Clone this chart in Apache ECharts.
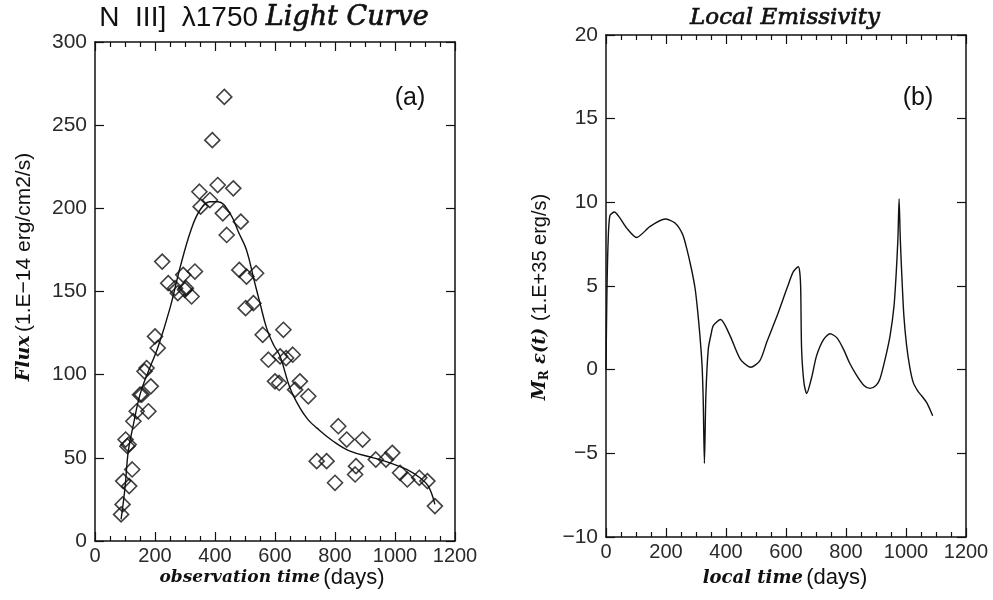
<!DOCTYPE html>
<html>
<head>
<meta charset="utf-8">
<script src="https://cdn.jsdelivr.net/npm/echarts@6/dist/echarts.min.js"></script>
<style>html,body{margin:0;padding:0;background:#fff}#c{width:993px;height:600px}</style>
</head>
<body>
<div id="c"></div>
<script>
// Panel (a): observed N III] 1750 fluxes (days, 1e-14 erg/cm2/s)
const obsDays = [87,92,94,114,102,108,112,124,128,139,150,156,178,186,165,172,200,209,224,244,267,276,294,300,303,322,333,348,352,383,391,409,426,431,439,461,481,486,502,505,528,537,559,578,600,614,617,628,637,659,667,683,711,739,772,800,811,839,867,870,892,936,970,991,1017,1041,1081,1108,1133];
const obsFlux = [16,22,36,33,61,57,58,43,72,78,88,88,78,93,102,104,123,116,168,155,152,149,160,151,152,147,162,210,201,205,241,214,197,267,184,212,163,192,140,159,143,161,124,109,96,95,111,127,110,112,91,96,87,48,48,35,69,61,40,45,61,49,49,53,41,37,38,36,21];
// Panel (a): model fit curve
const fitDays = [87,100,111,128,150,180,209,250,283,320,350,383,410,450,480,505,530,550,572,595,617,650,683,710,739,794,850,928,983,1039,1083,1111,1133];
const fitFlux = [13,32,54,70,88,103,116,140,164,187,199,204,204,197,185,175,157,143,128,118,111,92,80,73,68,60,54,50,47,43,38,33,22];
// Panel (b): local emissivity (1e35 erg/s) vs local time (days)
const locDays = [0,3,7,13,28,45,69,102,147,197,230,255,269,285,297,305,313,320,324,328,333,341,350,358,382,413,447,482,513,536,570,591,610,624,641,646,649,652,660,669,685,702,725,747,770,791,812,836,860,880,900,913,930,947,960,967,973,977,981,986,993,1002,1013,1024,1040,1052,1070,1089];
const locEmis = [0,4.5,7.6,9.2,9.42,9.1,8.46,7.9,8.56,9.0,8.76,8.1,7.25,6.0,4.85,3.6,2.05,0.3,-1.76,-5.6,-1.5,1.24,2.1,2.64,3.0,2.05,0.65,0.14,0.54,1.65,3.2,4.25,5.2,5.85,6.15,5.8,4.85,1.24,-0.8,-1.42,-0.5,0.84,1.8,2.15,1.9,1.24,0.4,-0.36,-0.95,-1.12,-0.95,-0.56,0.6,2.04,3.8,5.65,7.8,10.2,7.8,5.65,3.2,1.45,0.1,-0.76,-1.3,-1.56,-2.0,-2.76];
const xTicks = [0,200,400,600,800,1000,1200];

const SANS = 'Liberation Sans';
const SERIF = 'DejaVu Serif';
const fix = v => String(v).replace('-', '\u2212');

function xAx(grid, pos, showLab) {
  return {
    type: 'value', gridIndex: grid, position: pos, min: 0, max: 1200, interval: 200,
    axisLine: {show: true, onZero: false, lineStyle: {color: '#111', width: 1.5}},
    axisTick: {show: true, inside: true, length: 9, lineStyle: {color: '#111', width: 1.2}},
    minorTick: {show: true, splitNumber: 4, length: 5, lineStyle: {color: '#111', width: 1.2}},
    splitLine: {show: false},
    axisLabel: {show: showLab, fontFamily: SANS, fontSize: 20, color: '#2a2a2a', margin: 5, formatter: fix}
  };
}
function yAx(grid, pos, min, max, step, showLab) {
  return {
    type: 'value', gridIndex: grid, position: pos, min: min, max: max, interval: step,
    axisLine: {show: true, onZero: false, lineStyle: {color: '#111', width: 1.5}},
    axisTick: {show: true, inside: true, length: 9, lineStyle: {color: '#111', width: 1.2}},
    splitLine: {show: false},
    axisLabel: {show: showLab, fontFamily: SANS, fontSize: 21, color: '#2a2a2a', margin: 8, formatter: fix}
  };
}

const chart = echarts.init(document.getElementById('c'), null, {renderer: 'canvas'});
chart.setOption({
  animation: false,
  backgroundColor: '#fff',
  grid: [
    {left: 95, right: 538, top: 42, bottom: 59},
    {left: 606, right: 27, top: 35, bottom: 63}
  ],
  xAxis: [xAx(0, 'bottom', true), xAx(0, 'top', false), xAx(1, 'bottom', true), xAx(1, 'top', false)],
  yAxis: [yAx(0, 'left', 0, 300, 50, true), yAx(0, 'right', 0, 300, 50, false),
          yAx(1, 'left', -10, 20, 5, true), yAx(1, 'right', -10, 20, 5, false)],
  series: [
    {
      type: 'scatter', xAxisIndex: 0, yAxisIndex: 0,
      data: obsDays.map((d, i) => [d, obsFlux[i]]),
      symbol: 'diamond', symbolSize: [15, 15],
      itemStyle: {color: 'rgba(0,0,0,0)', borderColor: '#111', borderWidth: 1.6}
    },
    {
      type: 'line', xAxisIndex: 0, yAxisIndex: 0,
      data: fitDays.map((d, i) => [d, fitFlux[i]]),
      smooth: 0.4, showSymbol: false, lineStyle: {color: '#111', width: 1.4}
    },
    {
      type: 'line', xAxisIndex: 2, yAxisIndex: 2,
      data: locDays.map((d, i) => [d, locEmis[i]]),
      smooth: 0.25, showSymbol: false, lineStyle: {color: '#111', width: 1.4}
    }
  ],
  graphic: [
    {type: 'text', x: 264, y: 18, style: {
      text: '{a|N  III]  \u03bb1750 }{b|Light Curve}', align: 'center', verticalAlign: 'middle',
      rich: {a: {fontFamily: SANS, fontSize: 28, fill: '#111'}, b: {fontFamily: SERIF, fontStyle: 'italic', fontSize: 27, fill: '#111', stroke: '#111', lineWidth: 0.7}}
    }},
    {type: 'text', x: 785, y: 18, style: {
      text: 'Local Emissivity', align: 'center', verticalAlign: 'middle',
      fontFamily: SERIF, fontStyle: 'italic', fontSize: 23, fill: '#111', stroke: '#111', lineWidth: 0.7
    }},
    {type: 'text', x: 410, y: 98, style: {text: '(a)', align: 'center', verticalAlign: 'middle', fontFamily: SANS, fontSize: 25, fill: '#111'}},
    {type: 'text', x: 918, y: 98, style: {text: '(b)', align: 'center', verticalAlign: 'middle', fontFamily: SANS, fontSize: 25, fill: '#111'}},
    {type: 'text', x: 272, y: 578, style: {
      text: '{b|observation time} {a|(days)}', align: 'center', verticalAlign: 'middle',
      rich: {a: {fontFamily: SANS, fontSize: 22, fill: '#111'}, b: {fontFamily: SERIF, fontStyle: 'italic', fontWeight: 'bold', fontSize: 17, fill: '#111'}}
    }},
    {type: 'text', x: 785, y: 578, style: {
      text: '{b|local time} {a|(days)}', align: 'center', verticalAlign: 'middle',
      rich: {a: {fontFamily: SANS, fontSize: 22, fill: '#111'}, b: {fontFamily: SERIF, fontStyle: 'italic', fontWeight: 'bold', fontSize: 18, fill: '#111'}}
    }},
    {type: 'text', x: 24, y: 267, rotation: Math.PI / 2, style: {
      text: '{b|Flux} {a|(1.E\u221214 erg/cm2/s)}', align: 'center', verticalAlign: 'middle',
      rich: {a: {fontFamily: SANS, fontSize: 21, fill: '#111'}, b: {fontFamily: SERIF, fontStyle: 'italic', fontWeight: 'bold', fontSize: 19, fill: '#111'}}
    }},
    {type: 'text', x: 540, y: 297, rotation: Math.PI / 2, style: {
      text: '{b|M}{s|R}{b| \u03b5(t)}  {a|(1.E+35 erg/s)}', align: 'center', verticalAlign: 'middle',
      rich: {a: {fontFamily: SANS, fontSize: 20, fill: '#111'},
             b: {fontFamily: SERIF, fontStyle: 'italic', fontWeight: 'bold', fontSize: 18, fill: '#111'},
             s: {fontFamily: SERIF, fontWeight: 'bold', fontSize: 12, fill: '#111', padding: [9, 0, 0, 0]}}
    }}
  ]
});
</script>
</body>
</html>
